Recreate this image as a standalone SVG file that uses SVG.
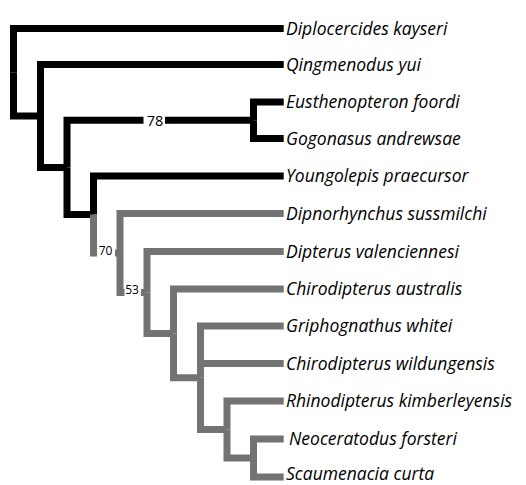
<svg xmlns="http://www.w3.org/2000/svg" width="526" height="485" viewBox="0 0 526 485">
<style>
.b{fill:none;stroke:#000;stroke-width:7;stroke-linejoin:miter;stroke-linecap:butt}
.g{fill:none;stroke:#737373;stroke-width:7;stroke-linejoin:miter;stroke-linecap:butt}
.leaf{font-family:"Open Sans","Noto Sans",sans-serif;font-style:italic;font-size:17.5px;fill:#000}
.sup{font-family:"Open Sans","Noto Sans",sans-serif;fill:#000;text-anchor:middle}
</style>
<rect width="526" height="485" fill="#fff"/>
<g id="connectors">
<path class="b" d="M13.5 72.2V28.5H283.7"/>
<path class="b" d="M13.5 72.2V116H40.5"/>
<path class="b" d="M40.5 116V64.5H283.7"/>
<path class="b" d="M40.5 116V167.4H67"/>
<path class="b" d="M67 167.4V120.25H143.5M165 120.25H253.5"/>
<path class="b" d="M253.5 120.25V102H283.7"/>
<path class="b" d="M253.5 120.25V138.5H283.7"/>
<path class="b" d="M67 167.4V214.5H93.5"/>
<path class="b" d="M93.5 214.5V176H283.7"/>
<path class="g" d="M93.5 214.5V252.95H97M115 252.95H120"/>
<path class="g" d="M120 252.95V213.5H283.7"/>
<path class="g" d="M120 252.95V292.4H124.5M141 292.4H147"/>
<path class="g" d="M147 292.4V251.5H283.7"/>
<path class="g" d="M147 292.4V333.4H173.5"/>
<path class="g" d="M173.5 333.4V289H283.7"/>
<path class="g" d="M173.5 333.4V377.75H200.5"/>
<path class="g" d="M200.5 377.75V326H283.7"/>
<path class="g" d="M200.5 363.5H283.7"/>
<path class="g" d="M200.5 377.75V429.5H227"/>
<path class="g" d="M227 429.5V401H283.7"/>
<path class="g" d="M227 429.5V458H253.5"/>
<path class="g" d="M253.5 458V439H283.7"/>
<path class="g" d="M253.5 458V477H283.7"/>
</g>
<g id="support-78"><text class="sup" x="155" y="125.6" font-size="14.5">78</text></g>
<g id="support-70"><text class="sup" x="105.5" y="255.4" font-size="12">70</text></g>
<g id="support-53"><text class="sup" x="132" y="294" font-size="12">53</text></g>
<g id="leaf-diplocercides"><text class="leaf" x="286" y="34.5">Diplocercides kayseri</text></g>
<g id="leaf-qingmenodus"><text class="leaf" x="286" y="70.5">Qingmenodus yui</text></g>
<g id="leaf-eusthenopteron"><text class="leaf" x="286" y="108">Eusthenopteron foordi</text></g>
<g id="leaf-gogonasus"><text class="leaf" x="286" y="144.5">Gogonasus andrewsae</text></g>
<g id="leaf-youngolepis"><text class="leaf" x="286" y="182">Youngolepis praecursor</text></g>
<g id="leaf-dipnorhynchus"><text class="leaf" x="286" y="219.5">Dipnorhynchus sussmilchi</text></g>
<g id="leaf-dipterus"><text class="leaf" x="286" y="257.5">Dipterus valenciennesi</text></g>
<g id="leaf-chirodipterus-a"><text class="leaf" x="286" y="295">Chirodipterus australis</text></g>
<g id="leaf-griphognathus"><text class="leaf" x="286" y="332">Griphognathus whitei</text></g>
<g id="leaf-chirodipterus-w"><text class="leaf" x="286" y="369.5">Chirodipterus wildungensis</text></g>
<g id="leaf-rhinodipterus"><text class="leaf" x="286" y="407">Rhinodipterus kimberleyensis</text></g>
<g id="leaf-neoceratodus"><text class="leaf" x="289" y="445">Neoceratodus forsteri</text></g>
<g id="leaf-scaumenacia"><text class="leaf" x="286" y="480">Scaumenacia curta</text></g>
</svg>
